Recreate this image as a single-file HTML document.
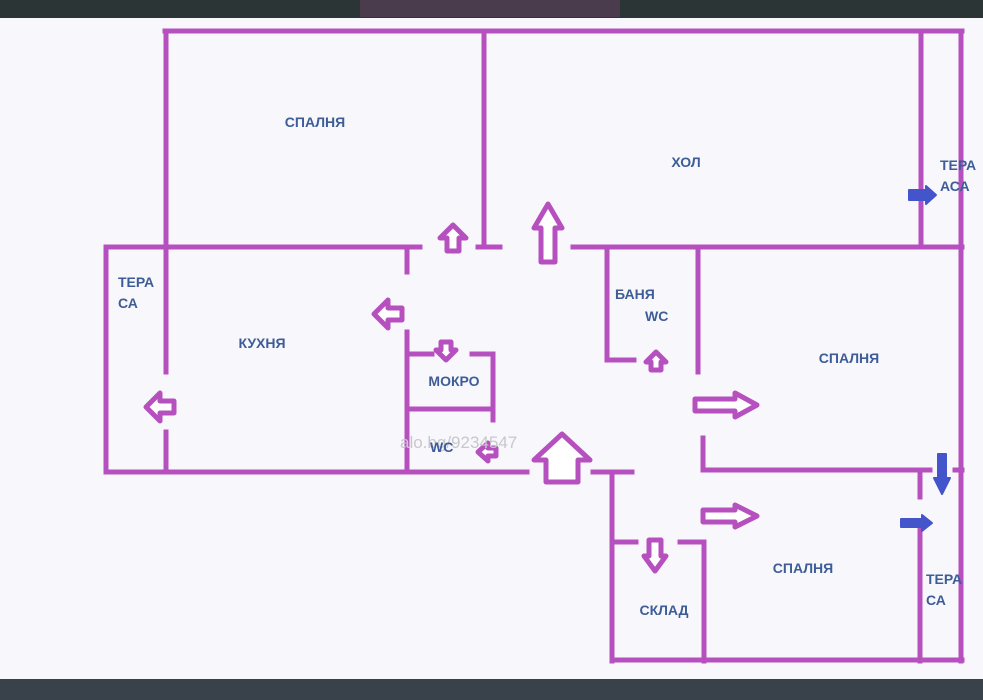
<!DOCTYPE html>
<html><head><meta charset="utf-8"><style>
html,body{margin:0;padding:0;background:#f8f8fc;}
svg{display:block}
text{font-family:"Liberation Sans",sans-serif;font-weight:bold;font-size:14px;fill:#3d5c98;}
</style></head><body>
<svg width="983" height="700" viewBox="0 0 983 700">
<rect x="0" y="0" width="983" height="18" fill="#2b3536"/>
<rect x="360" y="0" width="260" height="17" fill="#4a3c4c"/>
<rect x="0" y="679" width="983" height="21" fill="#39424a"/>
<rect x="0" y="18" width="983" height="661" fill="#f8f8fc"/>
<g stroke="#b650bf" stroke-width="5" stroke-linecap="square" fill="none">
<path d="M165 31H962M166 31V247M484 31V247M921 31V247M961 31V661"/>
<path d="M106 247H420M478 247H500M573 247H962"/>
<path d="M106 247V472M166 247V372M166 432V472M106 472H527"/>
<path d="M407 247V272M407 332V472M407 354H432M472 354H493M493 354V420M407 409H493"/>
<path d="M593 472H632M612 472V661M607 247V360H634M698 247V372"/>
<path d="M703 438V470H930M955 470H962M920 470V497"/>
<path d="M612 542H636M680 542H704M704 542V661M612 660H962M920 530V661"/>
</g>
<g stroke="#b650bf" stroke-width="5" fill="#fff" stroke-linejoin="round">
<polygon points="453,225 466,238 459,238 459,251 447,251 447,238 440,238"/>
<polygon points="548,204 562,228 555,228 555,262 541,262 541,228 534,228"/>
<polygon points="374,314 388,300 388,308 402,308 402,320 388,320 388,328"/>
<polygon points="146,407 160,393 160,401 174,401 174,413 160,413 160,421"/>
<polygon points="446,360 456,350 451,350 451,342 441,342 441,350 436,350"/>
<polygon points="656,352 666,362 661,362 661,370 651,370 651,362 646,362"/>
<polygon points="757,405 735,393 735,399 695,399 695,411 735,411 735,417"/>
<polygon points="757,516 735,505 735,510 703,510 703,522 735,522 735,527"/>
<polygon points="655,571 666,556 661,556 661,540 649,540 649,556 644,556"/>
<polygon points="478,452 488,443 488,448 496,448 496,456 488,456 488,461"/>
<polygon points="562,434 590,460 578,460 578,482 546,482 546,460 534,460"/>
</g>
<g fill="#4455cc" stroke="#4455cc" stroke-width="2" stroke-linejoin="round">
<polygon points="936,195 926,186 926,190 909,190 909,200 926,200 926,204"/>
<polygon points="942,494 950,478 946,478 946,454 938,454 938,478 934,478"/>
<polygon points="932,523 922,515 922,519 901,519 901,527 922,527 922,531"/>
</g>
<text x="315" y="127" text-anchor="middle">СПАЛНЯ</text>
<text x="686" y="167" text-anchor="middle">ХОЛ</text>
<text x="940" y="170">ТЕРА</text>
<text x="940" y="191">АСА</text>
<text x="118" y="287">ТЕРА</text>
<text x="118" y="308">СА</text>
<text x="262" y="348" text-anchor="middle">КУХНЯ</text>
<text x="454" y="386" text-anchor="middle">МОКРО</text>
<text x="615" y="299">БАНЯ</text>
<text x="645" y="321">WC</text>
<text x="849" y="363" text-anchor="middle">СПАЛНЯ</text>
<text x="803" y="573" text-anchor="middle">СПАЛНЯ</text>
<text x="664" y="615" text-anchor="middle">СКЛАД</text>
<text x="926" y="584">ТЕРА</text>
<text x="926" y="605">СА</text>
<text x="400" y="448" style="font-weight:normal;font-size:17px;fill:#c8c8cc">alo.bg/9234547</text>
<text x="430" y="452">WC</text>
</svg>
</body></html>
